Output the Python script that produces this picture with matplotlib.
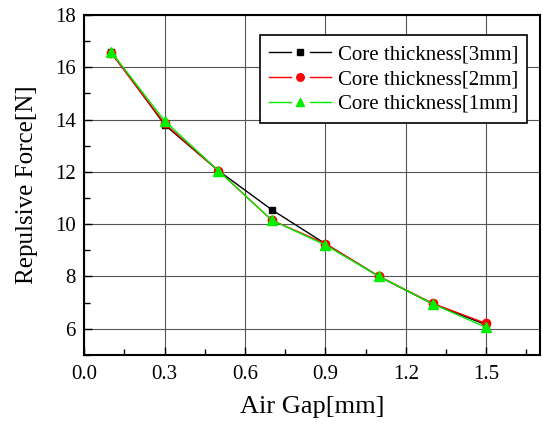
import matplotlib
matplotlib.use("Agg")
import matplotlib.pyplot as plt
from matplotlib.ticker import MultipleLocator
from matplotlib.legend_handler import HandlerLine2D
from matplotlib.lines import Line2D

plt.rcParams['font.family'] = ['Liberation Serif', 'DejaVu Serif']

# air gap [mm] vs repulsive force [N]
air_gap = [0.1, 0.3, 0.5, 0.7, 0.9, 1.1, 1.3, 1.5]
force_3mm = [16.6, 13.8, 12.05, 10.55, 9.25, 8.0, 6.95, 6.15]
force_2mm = [16.55, 13.85, 12.05, 10.15, 9.25, 8.0, 6.97, 6.2]
force_1mm = [16.6, 13.95, 12.05, 10.15, 9.2, 8.0, 6.95, 6.05]


class GapHandler(HandlerLine2D):
    # line - marker - line, with a small gap on each side of the marker
    def create_artists(self, legend, orig, xdescent, ydescent, width, height, fontsize, trans):
        y = height / 2 - ydescent
        gap = 0.15 * width
        mid = width / 2 - xdescent
        arts = []
        for x0, x1 in [(-xdescent, mid - gap), (mid + gap, width - xdescent)]:
            seg = Line2D([x0, x1], [y, y], color=orig.get_color(), lw=orig.get_linewidth())
            seg.set_transform(trans)
            arts.append(seg)
        mk = Line2D([mid], [y], ls='none', marker=orig.get_marker(), color=orig.get_color(),
                    markersize=orig.get_markersize() * 0.9)
        mk.set_transform(trans)
        arts.append(mk)
        return arts


fig = plt.figure(figsize=(5.43, 4.26), dpi=100)
ax = fig.add_axes([0.155, 0.167, 0.839, 0.798])

ax.plot(air_gap, force_3mm, color='black', marker='s', markersize=5, lw=1,
        label='Core thickness[3mm]')
ax.plot(air_gap, force_2mm, color='red', marker='o', markersize=6, lw=1,
        label='Core thickness[2mm]')
ax.plot(air_gap, force_1mm, color='#00ee00', marker='^', markersize=7, lw=1,
        label='Core thickness[1mm]')

ax.set_xlim(0, 1.7)
ax.set_ylim(5, 18)
ax.xaxis.set_major_locator(MultipleLocator(0.3))
ax.xaxis.set_minor_locator(MultipleLocator(0.15))
ax.yaxis.set_major_locator(MultipleLocator(2))
ax.yaxis.set_minor_locator(MultipleLocator(1))
ax.xaxis.set_major_formatter(plt.FuncFormatter(lambda v, p: f'{v:.1f}'))

ax.tick_params(which='both', direction='in', labelsize=15, top=False, right=False)
ax.tick_params(which='major', length=6, width=1)
ax.tick_params(axis='x', which='major', pad=7)
ax.tick_params(axis='y', which='major', pad=6)
ax.tick_params(which='minor', length=4, width=1)
ax.grid(True, which='major', color='#555555', lw=0.8)
for s in ax.spines.values():
    s.set_linewidth(1.5)

ax.set_xlabel('Air Gap[mm]', fontsize=19, labelpad=9)
ax.set_ylabel('Repulsive Force[N]', fontsize=18, labelpad=12)

leg = ax.legend(loc='upper right', bbox_to_anchor=(0.973, 0.94), fontsize=15,
                numpoints=1, handlelength=3.0, fancybox=False, framealpha=1,
                edgecolor='black', borderpad=0.45, labelspacing=0.25,
                handletextpad=0.3, borderaxespad=0,
                handler_map={Line2D: GapHandler()})
leg.get_frame().set_linewidth(1.2)

fig.savefig('out.png', dpi=100)
